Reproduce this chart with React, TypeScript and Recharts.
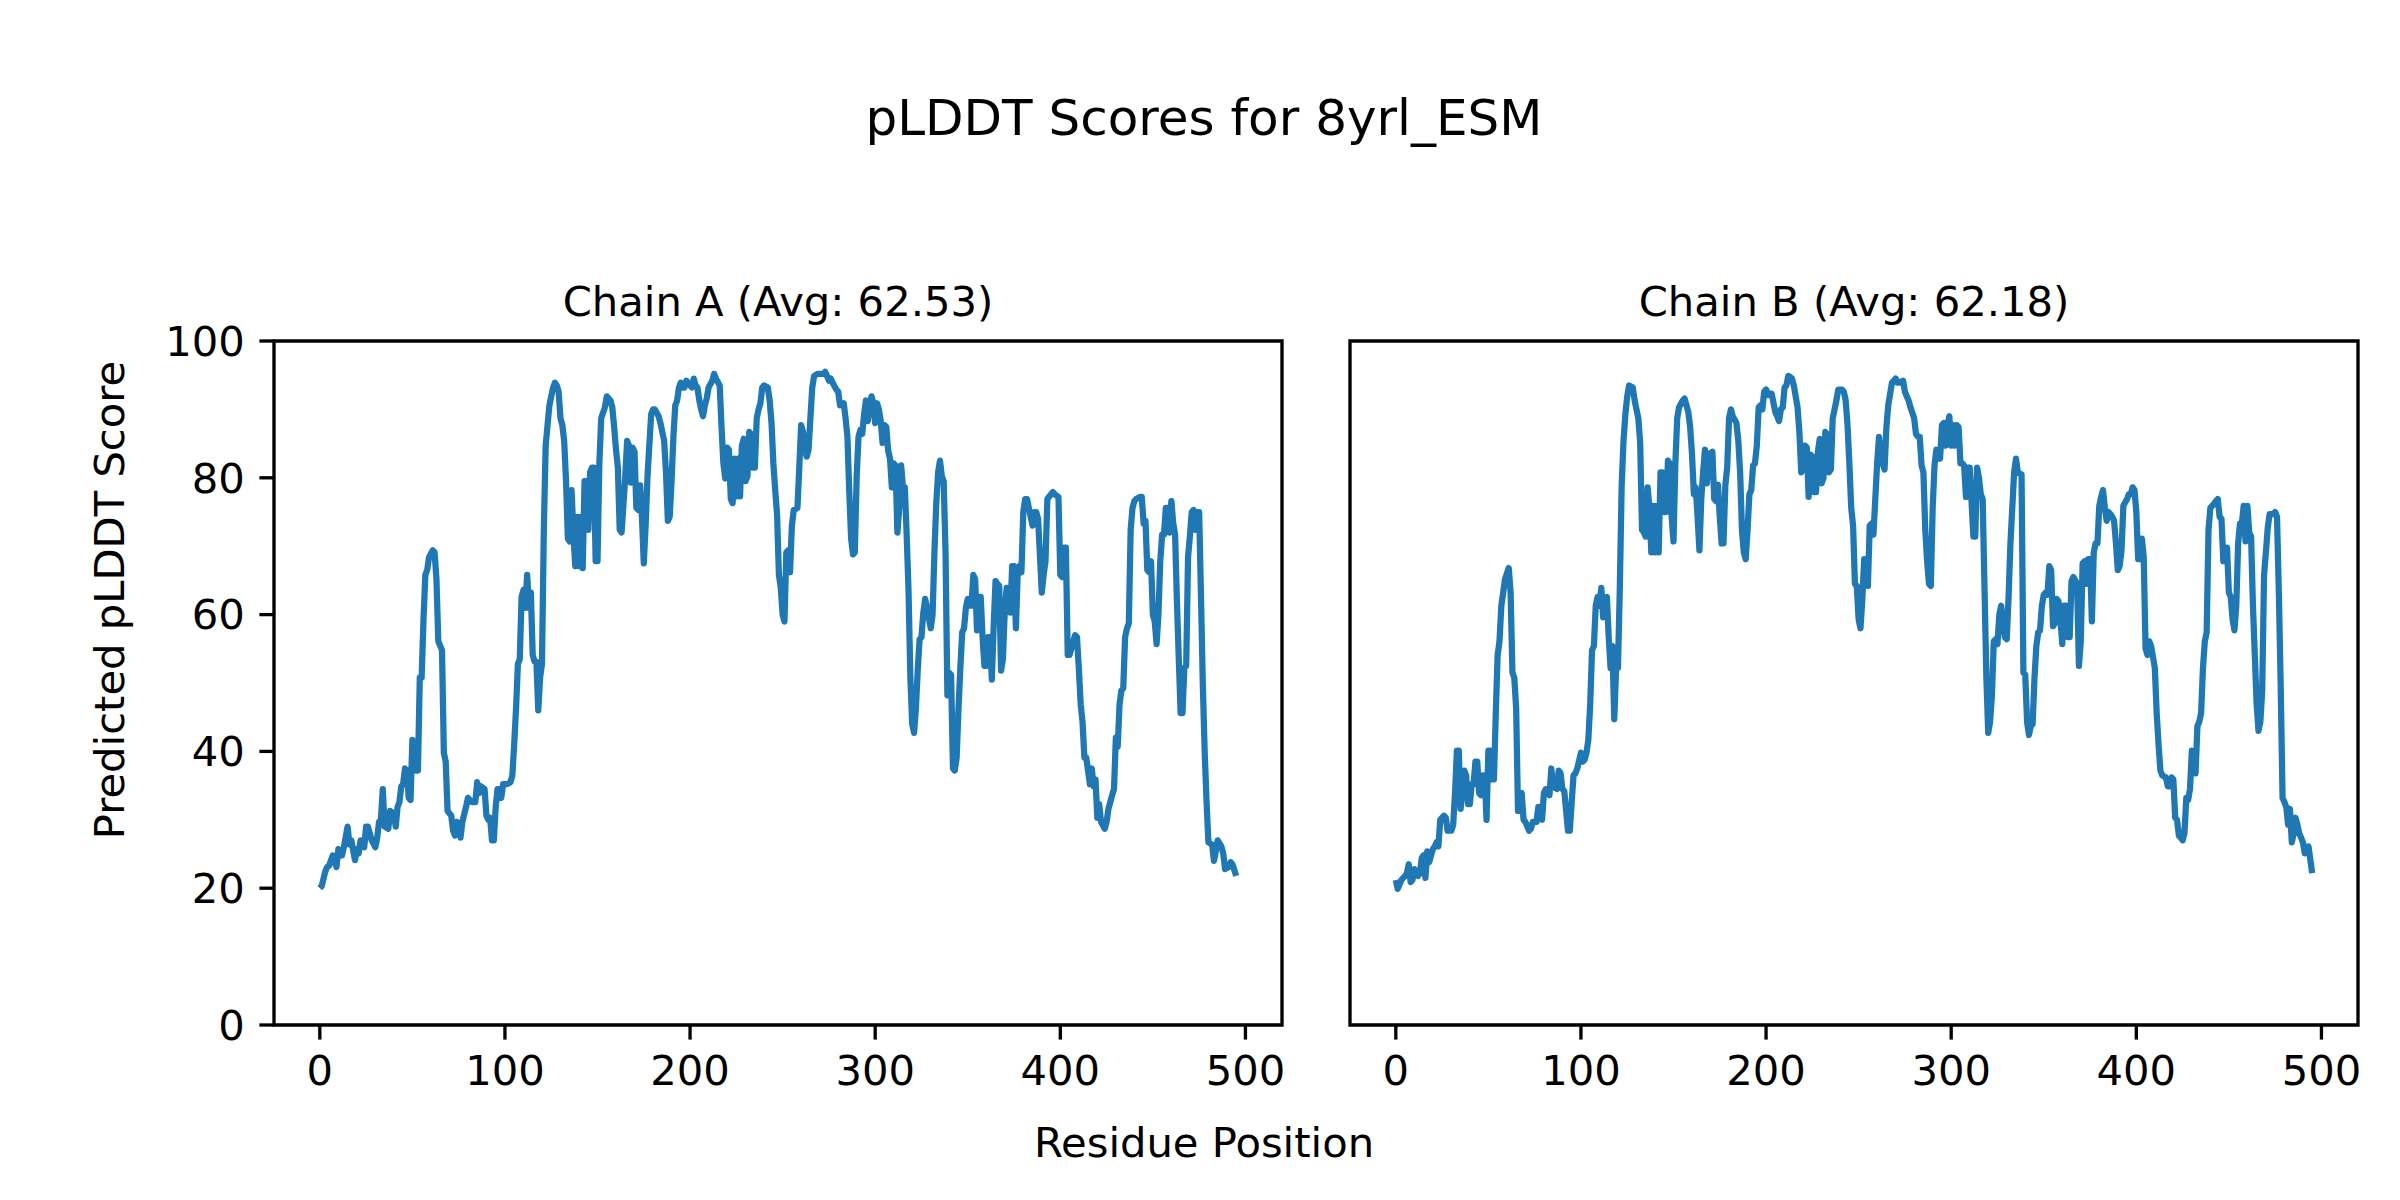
import { LineChart, Line, XAxis, YAxis, ReferenceArea } from "recharts";

// [residue, pLDDT]
const chainA: [number, number][] = [
  [0, 20.0], [1, 20.3], [3, 22.5], [4, 23.1], [5, 23.3], [7, 24.8], [9, 23.1], [10, 25.7], [12, 24.8], [13, 26.0],
  [15, 29.0], [16, 26.4], [17, 27.0], [19, 24.1], [20, 25.7], [21, 25.1], [22, 27.0], [24, 26.0], [25, 29.0], [26, 29.0],
  [28, 27.0], [30, 26.0], [31, 27.4], [32, 29.7], [33, 30.0], [34, 34.5], [35, 29.0], [37, 28.7], [38, 31.3], [40, 30.9],
  [41, 29.0], [42, 31.9], [43, 32.6], [44, 34.9], [45, 35.2], [46, 37.5], [47, 37.2], [48, 33.2], [49, 32.9], [50, 41.7],
  [52, 37.2], [53, 37.2], [54, 50.8], [55, 50.8], [56, 59.3], [57, 65.8], [58, 66.5], [59, 68.4], [61, 69.4], [62, 69.1],
  [63, 65.2], [64, 56.1], [66, 54.8], [67, 39.8], [68, 38.5], [69, 31.3], [71, 30.6], [72, 28.4], [73, 27.7], [74, 29.7],
  [75, 29.3], [76, 27.4], [77, 29.7], [79, 31.9], [80, 33.2], [82, 32.6], [84, 32.6], [85, 35.5], [86, 33.9], [87, 34.9],
  [89, 34.5], [90, 30.6], [91, 30.0], [92, 30.3], [93, 27.0], [94, 27.0], [95, 31.9], [96, 34.5], [97, 34.5], [98, 33.2],
  [99, 35.2], [101, 35.2], [103, 35.5], [104, 36.5], [105, 41.0], [106, 46.3], [107, 52.8], [108, 53.5], [109, 62.6], [110, 63.6],
  [111, 61.0], [112, 65.8], [113, 61.0], [114, 63.2], [115, 54.1], [116, 53.1], [117, 53.1], [118, 46.0], [119, 50.8], [120, 52.8],
  [121, 72.4], [122, 84.7], [124, 90.6], [126, 93.2], [127, 93.9], [128, 93.5], [129, 92.6], [130, 88.7], [131, 87.7], [132, 85.4],
  [133, 79.5], [134, 71.1], [135, 70.7], [136, 78.2], [137, 71.7], [138, 67.1], [139, 74.3], [140, 67.1], [141, 74.3], [142, 66.8],
  [143, 79.5], [144, 79.5], [145, 72.4], [146, 80.8], [147, 81.5], [148, 81.5], [149, 67.8], [150, 67.8], [151, 82.1], [152, 88.7],
  [154, 90.3], [155, 91.9], [157, 91.3], [158, 90.3], [159, 87.4], [160, 84.1], [161, 81.5], [162, 72.4], [163, 72.0], [165, 80.2],
  [166, 85.4], [167, 84.7], [168, 79.3], [169, 84.4], [170, 83.8], [171, 75.6], [172, 75.3], [173, 78.9], [174, 74.3], [175, 67.5],
  [176, 73.0], [177, 80.2], [179, 89.3], [180, 90.0], [181, 90.0], [183, 89.0], [184, 88.0], [186, 85.4], [187, 80.8], [188, 73.7],
  [189, 74.3], [190, 79.5], [191, 86.0], [192, 90.6], [193, 91.3], [194, 93.2], [195, 93.9], [196, 93.2], [197, 93.2], [198, 94.2],
  [200, 93.5], [201, 93.2], [202, 94.5], [203, 93.5], [204, 93.2], [205, 91.3], [206, 90.0], [207, 89.0], [208, 90.6], [209, 91.6],
  [210, 93.2], [212, 94.2], [213, 95.2], [214, 94.5], [216, 93.5], [217, 87.4], [218, 82.1], [219, 79.9], [220, 84.4], [221, 84.1],
  [222, 76.9], [223, 76.3], [224, 82.8], [225, 77.3], [226, 82.8], [227, 77.3], [228, 84.7], [229, 85.7], [230, 79.5], [231, 80.2],
  [232, 86.7], [233, 86.4], [234, 81.5], [235, 81.5], [236, 88.7], [237, 90.0], [238, 90.9], [239, 93.2], [240, 93.5], [242, 93.2],
  [243, 91.3], [244, 88.0], [245, 82.1], [246, 78.2], [247, 74.6], [248, 65.8], [249, 63.9], [250, 60.0], [251, 59.0], [252, 69.1],
  [253, 69.4], [254, 66.2], [255, 73.0], [256, 75.3], [258, 75.6], [259, 81.5], [260, 87.7], [261, 86.7], [262, 84.1], [263, 83.1],
  [264, 84.1], [265, 88.7], [266, 93.2], [267, 94.9], [269, 95.2], [272, 95.2], [273, 95.5], [275, 94.2], [276, 94.5], [277, 93.9],
  [279, 92.9], [280, 92.6], [281, 90.6], [283, 90.9], [284, 88.7], [285, 86.0], [286, 78.0], [287, 71.1], [288, 68.8], [289, 69.1],
  [290, 80.2], [291, 86.0], [292, 87.0], [293, 86.4], [294, 89.3], [295, 91.3], [296, 88.3], [297, 90.6], [298, 91.9], [299, 90.9],
  [300, 88.0], [301, 90.9], [302, 90.0], [303, 88.3], [304, 85.1], [305, 87.7], [306, 87.4], [307, 84.0], [308, 82.8], [309, 78.6],
  [310, 82.1], [311, 81.8], [312, 72.0], [313, 75.6], [314, 81.8], [315, 78.6], [316, 78.6], [317, 71.7], [318, 63.6], [319, 50.8],
  [320, 44.0], [321, 42.7], [322, 46.3], [323, 52.0], [324, 56.4], [325, 56.7], [326, 60.3], [327, 62.3], [328, 61.0], [330, 58.0],
  [331, 60.0], [332, 69.1], [333, 76.3], [334, 80.8], [335, 82.5], [336, 80.2], [337, 79.5], [338, 69.1], [339, 48.2], [340, 51.5],
  [341, 51.2], [342, 37.5], [343, 37.2], [344, 39.1], [345, 46.3], [346, 52.2], [347, 57.4], [348, 58.0], [349, 61.0], [350, 62.3],
  [351, 61.3], [352, 61.3], [353, 65.8], [354, 65.2], [355, 57.7], [356, 58.0], [357, 62.6], [358, 56.7], [359, 52.5], [360, 52.5],
  [361, 56.7], [362, 56.7], [363, 50.5], [364, 58.3], [365, 64.9], [366, 64.5], [367, 64.2], [368, 51.8], [369, 53.5], [370, 60.6],
  [371, 63.9], [372, 63.9], [373, 60.3], [374, 67.1], [375, 67.1], [376, 58.0], [377, 66.2], [378, 67.1], [379, 66.2], [380, 75.0],
  [381, 76.9], [382, 76.9], [384, 74.3], [385, 73.0], [386, 75.0], [387, 75.0], [388, 74.0], [390, 63.2], [391, 65.8], [392, 67.8],
  [393, 76.9], [395, 77.6], [396, 77.9], [397, 77.6], [399, 77.2], [400, 65.8], [401, 65.5], [402, 69.8], [403, 69.8], [404, 54.1],
  [405, 54.1], [407, 56.1], [408, 57.0], [409, 56.7], [410, 52.2], [411, 46.9], [412, 44.3], [413, 39.1], [414, 39.1], [416, 35.2],
  [417, 37.5], [418, 34.9], [419, 35.9], [420, 30.3], [421, 32.3], [422, 29.7], [424, 28.7], [425, 29.7], [426, 31.6], [428, 33.6],
  [429, 34.5], [430, 42.0], [431, 40.7], [432, 46.9], [433, 48.9], [434, 49.2], [435, 56.7], [436, 58.0], [437, 58.7], [438, 72.4],
  [439, 75.6], [440, 76.6], [441, 76.9], [443, 77.2], [444, 77.2], [445, 73.3], [446, 73.7], [447, 66.5], [448, 66.2], [449, 67.8],
  [450, 60.0], [451, 59.0], [452, 55.7], [453, 60.0], [454, 67.8], [455, 71.7], [456, 71.7], [457, 75.6], [458, 75.6], [459, 72.0],
  [460, 76.6], [461, 73.3], [462, 71.7], [463, 61.9], [464, 53.5], [465, 45.6], [466, 45.6], [467, 52.2], [468, 52.5], [469, 68.4],
  [470, 71.5], [471, 75.0], [472, 75.3], [473, 72.4], [474, 75.0], [475, 75.0], [476, 62.6], [477, 49.5], [478, 39.8], [479, 32.6],
  [480, 26.7], [482, 26.4], [483, 24.0], [484, 25.4], [485, 27.0], [487, 26.1], [488, 25.1], [489, 22.8], [491, 23.1], [492, 23.8],
  [493, 23.5], [495, 21.8],
];

const chainB: [number, number][] = [
  [0, 21.2], [1, 19.9], [3, 21.2], [5, 21.8], [6, 22.2], [7, 23.5], [8, 20.9], [9, 21.2], [10, 22.8], [12, 21.8],
  [13, 22.2], [14, 24.4], [15, 24.8], [16, 21.5], [17, 25.4], [18, 23.8], [20, 25.7], [21, 26.1], [22, 26.7], [23, 26.1],
  [24, 30.0], [26, 30.6], [27, 30.3], [28, 28.4], [30, 28.4], [31, 29.3], [32, 34.0], [33, 40.1], [34, 40.1], [35, 31.6],
  [37, 37.2], [38, 36.5], [39, 32.3], [40, 32.3], [41, 35.2], [42, 35.2], [43, 38.5], [44, 38.5], [45, 33.9], [46, 33.6],
  [47, 36.5], [48, 36.5], [49, 30.0], [50, 40.1], [51, 40.1], [52, 35.9], [53, 35.9], [54, 45.6], [55, 54.1], [56, 56.1],
  [57, 61.3], [58, 63.2], [59, 65.2], [61, 66.8], [62, 63.2], [63, 51.5], [64, 50.8], [65, 46.3], [66, 31.3], [67, 31.3],
  [68, 33.9], [69, 30.0], [70, 29.7], [72, 28.4], [73, 28.7], [74, 29.7], [76, 29.7], [77, 31.9], [78, 31.9], [79, 30.0],
  [80, 33.9], [81, 34.5], [82, 34.5], [83, 33.6], [84, 37.5], [85, 34.9], [87, 34.5], [88, 37.2], [89, 36.8], [90, 34.5],
  [91, 34.2], [92, 31.3], [93, 28.4], [94, 28.4], [95, 32.6], [96, 36.5], [97, 36.8], [98, 37.5], [100, 39.8], [101, 38.5],
  [102, 38.8], [103, 39.8], [104, 41.7], [105, 46.9], [106, 54.8], [107, 55.4], [108, 61.3], [109, 62.6], [110, 61.3], [111, 63.9],
  [112, 59.6], [114, 62.6], [115, 56.7], [116, 52.2], [117, 55.4], [118, 44.7], [119, 52.2], [120, 52.2], [121, 63.9], [122, 78.9],
  [123, 85.4], [124, 89.3], [125, 91.9], [126, 93.5], [128, 93.2], [129, 91.3], [130, 90.0], [131, 88.7], [132, 85.1], [133, 72.4],
  [134, 72.0], [135, 71.4], [136, 78.6], [137, 75.6], [138, 69.1], [139, 75.9], [140, 69.1], [141, 75.9], [142, 69.1], [143, 80.8],
  [144, 80.8], [145, 75.0], [146, 75.0], [147, 82.5], [148, 82.1], [149, 74.3], [150, 70.7], [151, 82.1], [152, 88.7], [153, 90.3],
  [155, 91.3], [156, 91.6], [158, 89.6], [159, 87.4], [160, 83.4], [161, 77.6], [162, 78.6], [163, 74.3], [164, 69.4], [165, 76.9],
  [166, 80.8], [167, 84.1], [168, 79.2], [169, 83.4], [171, 83.8], [172, 76.9], [173, 76.6], [174, 79.0], [175, 74.3], [176, 70.4],
  [177, 70.4], [178, 78.9], [179, 81.5], [180, 88.7], [181, 90.0], [182, 89.0], [184, 88.0], [185, 85.4], [186, 80.8], [187, 72.2],
  [188, 69.1], [189, 68.1], [190, 72.4], [191, 77.6], [192, 78.2], [193, 81.8], [194, 82.1], [195, 84.7], [196, 90.3], [197, 90.6],
  [198, 90.0], [199, 92.6], [200, 92.9], [201, 92.1], [202, 92.3], [203, 92.3], [205, 89.6], [206, 89.0], [207, 88.3], [208, 90.0],
  [209, 90.3], [210, 93.2], [211, 93.5], [212, 94.9], [214, 94.5], [215, 93.5], [217, 90.3], [218, 86.7], [219, 80.8], [220, 81.5],
  [221, 84.7], [222, 84.4], [223, 77.2], [224, 83.4], [225, 83.1], [226, 77.9], [227, 77.9], [228, 83.8], [229, 85.7], [230, 79.2],
  [231, 79.9], [232, 86.7], [233, 86.4], [234, 80.8], [235, 81.2], [236, 88.7], [237, 90.0], [238, 91.3], [239, 92.9], [241, 92.9],
  [242, 92.6], [243, 91.3], [244, 87.7], [245, 82.1], [246, 75.6], [247, 73.0], [248, 64.5], [249, 64.2], [250, 59.3], [251, 58.0],
  [252, 62.3], [253, 68.1], [254, 67.8], [255, 64.2], [256, 73.0], [257, 73.3], [258, 71.7], [260, 82.1], [261, 86.0], [262, 83.4],
  [263, 82.1], [264, 81.2], [265, 87.4], [266, 90.6], [268, 93.9], [269, 94.2], [270, 94.5], [271, 93.9], [272, 93.9], [274, 94.2],
  [275, 92.6], [276, 91.9], [277, 91.3], [278, 90.3], [280, 88.7], [281, 86.4], [282, 86.0], [283, 86.0], [284, 81.8], [285, 80.8],
  [286, 72.4], [287, 67.8], [288, 64.5], [289, 64.2], [290, 75.6], [291, 81.8], [292, 84.1], [293, 83.8], [294, 82.8], [295, 87.7],
  [296, 88.0], [297, 84.7], [298, 87.7], [299, 89.0], [300, 84.7], [301, 87.7], [302, 84.7], [303, 87.7], [304, 87.4], [305, 82.1],
  [306, 82.1], [307, 81.8], [308, 77.2], [309, 81.5], [310, 81.5], [312, 71.4], [313, 71.4], [314, 81.5], [315, 80.0], [316, 77.6],
  [317, 76.9], [318, 63.9], [319, 50.8], [320, 42.7], [321, 44.3], [322, 48.2], [323, 56.1], [324, 56.4], [325, 55.7], [326, 60.0],
  [327, 61.3], [328, 58.7], [329, 56.7], [330, 56.4], [331, 62.6], [332, 70.4], [333, 75.6], [334, 80.8], [335, 82.8], [336, 80.8],
  [337, 80.6], [338, 80.5], [339, 51.5], [340, 51.2], [341, 44.3], [342, 42.4], [343, 43.7], [344, 44.0], [345, 50.8], [346, 55.4],
  [347, 57.4], [348, 57.7], [349, 61.3], [350, 62.9], [351, 63.2], [352, 62.9], [353, 67.1], [354, 66.5], [355, 58.3], [356, 58.7],
  [357, 62.3], [358, 61.9], [359, 59.3], [360, 55.7], [361, 61.3], [362, 61.3], [363, 56.7], [364, 56.7], [365, 64.9], [366, 65.5],
  [368, 64.5], [369, 52.5], [370, 56.1], [371, 67.5], [372, 67.8], [373, 64.5], [374, 68.1], [375, 68.1], [376, 59.0], [377, 69.1],
  [378, 70.4], [379, 70.4], [380, 75.9], [381, 77.2], [382, 78.2], [383, 75.6], [384, 73.7], [385, 75.0], [386, 74.7], [387, 74.3],
  [388, 73.7], [389, 70.4], [390, 66.5], [391, 67.1], [392, 69.4], [393, 75.9], [395, 76.9], [396, 77.6], [397, 77.6], [398, 78.6],
  [399, 78.2], [400, 75.0], [401, 68.1], [402, 68.1], [403, 71.1], [404, 68.4], [405, 55.1], [406, 54.1], [407, 56.1], [408, 55.4],
  [410, 52.2], [411, 45.6], [412, 41.1], [413, 37.2], [414, 36.5], [416, 36.2], [417, 34.9], [418, 34.9], [419, 36.2], [420, 35.9],
  [421, 30.3], [422, 30.0], [423, 27.7], [424, 27.4], [425, 27.0], [426, 28.0], [427, 33.2], [428, 32.9], [429, 34.5], [430, 40.1],
  [431, 39.1], [432, 36.8], [433, 43.7], [434, 44.3], [435, 45.6], [436, 52.2], [437, 56.1], [438, 57.4], [439, 72.4], [440, 75.6],
  [441, 75.9], [443, 76.6], [444, 76.9], [445, 74.3], [446, 74.0], [447, 67.8], [448, 67.8], [449, 69.8], [450, 63.2], [451, 62.6],
  [452, 59.3], [453, 57.7], [454, 61.3], [455, 70.4], [456, 73.3], [457, 73.3], [458, 75.9], [459, 70.7], [460, 75.9], [461, 72.0],
  [462, 71.4], [463, 61.3], [464, 54.1], [465, 46.9], [466, 43.0], [467, 44.3], [468, 48.9], [469, 65.8], [470, 69.1], [471, 72.7],
  [472, 74.7], [474, 74.7], [475, 75.0], [476, 74.3], [477, 63.2], [478, 49.5], [479, 33.2], [480, 32.6], [481, 31.9], [482, 29.3],
  [483, 31.6], [484, 26.7], [485, 28.0], [486, 30.3], [487, 29.3], [488, 28.0], [489, 27.4], [490, 26.7], [491, 25.1], [492, 26.0],
  [493, 26.1], [495, 22.2],
];

const xTicks = [0, 100, 200, 300, 400, 500];
const yTicks = [0, 20, 40, 60, 80, 100];
const xDomain: [number, number] = [-24.75, 519.75];

const FONT = "DejaVu Sans, Verdana, sans-serif";
const BLUE = "#1f77b4";
const tickStyle = { fontFamily: FONT, fontSize: 41.7, fill: "#000" };
const tickLine = { stroke: "#000", strokeWidth: 3.33 };

type PanelProps = {
  points: [number, number][];
  left: number;
  width: number;
  margin: { top: number; right: number; bottom: number; left: number };
  yAxisWidth: number;
  showYLabels: boolean;
};

function Panel({ points, left, width, margin, yAxisWidth, showYLabels }: PanelProps) {
  const data = points.map(([res, score]) => ({ res, score }));
  return (
    <div style={{ position: "absolute", left, top: 0 }}>
      <LineChart width={width} height={1200} data={data} margin={margin}>
        <XAxis
          dataKey="res"
          type="number"
          domain={xDomain}
          ticks={xTicks}
          allowDataOverflow
          height={120}
          axisLine={false}
          tickLine={tickLine}
          tickSize={14.6}
          tickMargin={15.4}
          tick={tickStyle}
          interval={0}
        />
        <YAxis
          type="number"
          domain={[0, 100]}
          ticks={yTicks}
          width={yAxisWidth}
          axisLine={false}
          tickLine={tickLine}
          tickSize={14.6}
          tickMargin={14.6}
          tick={showYLabels ? tickStyle : false}
          interval={0}
        />
        <Line
          type="linear"
          dataKey="score"
          stroke={BLUE}
          strokeWidth={6.25}
          strokeLinejoin="round"
          dot={false}
          activeDot={false}
          isAnimationActive={false}
        />
        <ReferenceArea
          x1={xDomain[0]}
          x2={xDomain[1]}
          y1={0}
          y2={100}
          fill="none"
          stroke="#000"
          strokeWidth={3.33}
          ifOverflow="visible"
        />
      </LineChart>
    </div>
  );
}

export default function App() {
  return (
    <div
      style={{
        position: "absolute",
        left: 0,
        top: 0,
        width: 2400,
        height: 1200,
        background: "#fff",
        overflow: "hidden",
      }}
    >
      <Panel
        points={chainA}
        left={0}
        width={1310}
        margin={{ top: 341, right: 28, bottom: 55, left: 174 }}
        yAxisWidth={100}
        showYLabels
      />
      <Panel
        points={chainB}
        left={1310}
        width={1090}
        margin={{ top: 341, right: 42, bottom: 55, left: 0 }}
        yAxisWidth={40}
        showYLabels={false}
      />
      <svg
        width={2400}
        height={1200}
        style={{ position: "absolute", left: 0, top: 0, pointerEvents: "none" }}
        fontFamily={FONT}
      >
        <text x={1204} y={135} textAnchor="middle" fontSize={50}>
          pLDDT Scores for 8yrl_ESM
        </text>
        <text x={778} y={316} textAnchor="middle" fontSize={41.7}>
          Chain A (Avg: 62.53)
        </text>
        <text x={1854} y={316} textAnchor="middle" fontSize={41.7}>
          Chain B (Avg: 62.18)
        </text>
        <text
          x={124}
          y={600}
          textAnchor="middle"
          fontSize={41.7}
          transform="rotate(-90 124 600)"
        >
          Predicted pLDDT Score
        </text>
        <text x={1204} y={1157} textAnchor="middle" fontSize={41.7}>
          Residue Position
        </text>
      </svg>
    </div>
  );
}
